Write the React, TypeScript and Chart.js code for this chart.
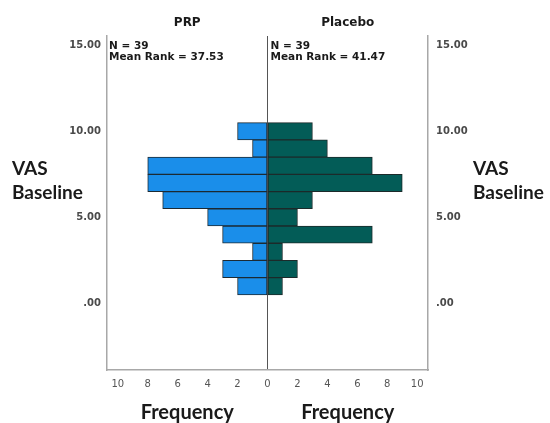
import React, { useEffect, useRef } from "react";
import { Chart, registerables } from "chart.js";

Chart.register(...registerables);

const bins = [10, 9, 8, 7, 6, 5, 4, 3, 2, 1];
const prpFreq = [2, 1, 8, 8, 7, 4, 3, 1, 3, 2];
const placeboFreq = [3, 4, 7, 9, 3, 2, 7, 1, 2, 1];
const freqTicks = [-10, -8, -6, -4, -2, 0, 2, 4, 6, 8, 10];
const vasTicks = [0, 5, 10, 15];
const groupLabels = ["PRP", "Placebo"];
const groupStats = [
  ["N = 39", "Mean Rank = 37.53"],
  ["N = 39", "Mean Rank = 41.47"],
];

const textPlugin = {
  id: "textPlugin",
  afterDraw(chart: any) {
    const ctx = chart.ctx;
    const area = chart.chartArea;
    const xs = chart.scales.x;
    const mid = xs.getPixelForValue(0);
    const leftC = (area.left + mid) / 2;
    const rightC = (mid + area.right) / 2;
    ctx.save();
    ctx.fillStyle = "#1a1a1a";
    ctx.textBaseline = "middle";
    ctx.textAlign = "center";
    ctx.font = "bold 12px 'DejaVu Sans'";
    ctx.fillText(groupLabels[0], leftC, 23);
    ctx.fillText(groupLabels[1], rightC, 23);

    ctx.textAlign = "left";
    ctx.font = "bold 10.5px 'DejaVu Sans'";
    ctx.fillText(groupStats[0][0], area.left + 2, 46);
    ctx.fillText(groupStats[0][1], area.left + 2, 57);
    ctx.fillText(groupStats[1][0], mid + 3, 46);
    ctx.fillText(groupStats[1][1], mid + 3, 57);

    ctx.font = "bold 19px Lato";
    ctx.fillText("VAS", 12, 169);
    ctx.fillText("Baseline", 12, 193);
    ctx.fillText("VAS", 473, 169);
    ctx.fillText("Baseline", 473, 193);

    ctx.textAlign = "center";
    ctx.font = "bold 20px Lato";
    ctx.fillText("Frequency", leftC, 413);
    ctx.fillText("Frequency", rightC, 413);
    ctx.restore();
  },
};

export default function App() {
  const ref = useRef<HTMLCanvasElement | null>(null);
  useEffect(() => {
    if (!ref.current) return;
    const yCommon = (pos: string, width: number) => ({
      type: "linear",
      position: pos,
      min: -3.86,
      max: 15.53,
      offset: false,
      stacked: true,
      afterFit: (s: any) => {
        s.width = width;
      },
      afterBuildTicks: (s: any) => {
        s.ticks = vasTicks.map((v) => ({ value: v }));
      },
      grid: { display: false, drawTicks: false, offset: false },
      border: { display: true, color: "#a8a8a8", width: 1.5 },
      ticks: {
        padding: pos === "left" ? 6 : 8,
        color: "#4a4a4a",
        font: { family: "'DejaVu Sans'", size: 10, weight: "bold" },
        callback: (v: any) => (v === 0 ? ".00" : Number(v).toFixed(2)),
      },
    });
    const chart = new Chart(ref.current, {
      type: "bar",
      data: {
        datasets: [
          {
            label: groupLabels[0],
            data: bins.map((b, i) => ({ x: -prpFreq[i], y: b })),
            backgroundColor: "#1a8eea",
            borderColor: "#1c2a33",
            borderWidth: 1,
            borderSkipped: false,
            categoryPercentage: 1,
            barPercentage: 1,
            yAxisID: "y",
          },
          {
            label: groupLabels[1],
            data: bins.map((b, i) => ({ x: placeboFreq[i], y: b })),
            backgroundColor: "#035c57",
            borderColor: "#1c2a2a",
            borderWidth: 1,
            borderSkipped: false,
            categoryPercentage: 1,
            barPercentage: 1,
            yAxisID: "y",
          },
        ],
      },
      options: {
        indexAxis: "y",
        responsive: false,
        animation: false,
        layout: { padding: { top: 36, left: 0, right: 0, bottom: 0 } },
        plugins: {
          legend: { display: false },
          tooltip: { enabled: false },
        },
        scales: {
          x: {
            type: "linear",
            min: -10.72,
            max: 10.72,
            stacked: true,
            afterFit: (s: any) => {
              s.height = 53;
            },
            afterBuildTicks: (s: any) => {
              s.ticks = freqTicks.map((v) => ({ value: v }));
            },
            grid: {
              drawTicks: false,
              color: (c: any) =>
                c.tick && c.tick.value === 0 ? "#555555" : "rgba(0,0,0,0)",
              lineWidth: 1,
            },
            border: { display: true, color: "#a8a8a8", width: 1.5 },
            ticks: {
              padding: 8,
              color: "#555555",
              font: { family: "'DejaVu Sans'", size: 10 },
              callback: (v: any) => String(Math.abs(Number(v))),
            },
          },
          y: yCommon("left", 107),
          y2: yCommon("right", 122),
        },
      },
      plugins: [textPlugin],
    } as any);
    return () => chart.destroy();
  }, []);
  return (
    <div style={{ position: "absolute", left: 0, top: 0, width: 550, height: 423, background: "#fff" }}>
      <canvas ref={ref} width={550} height={423} style={{ display: "block" }} />
    </div>
  );
}
